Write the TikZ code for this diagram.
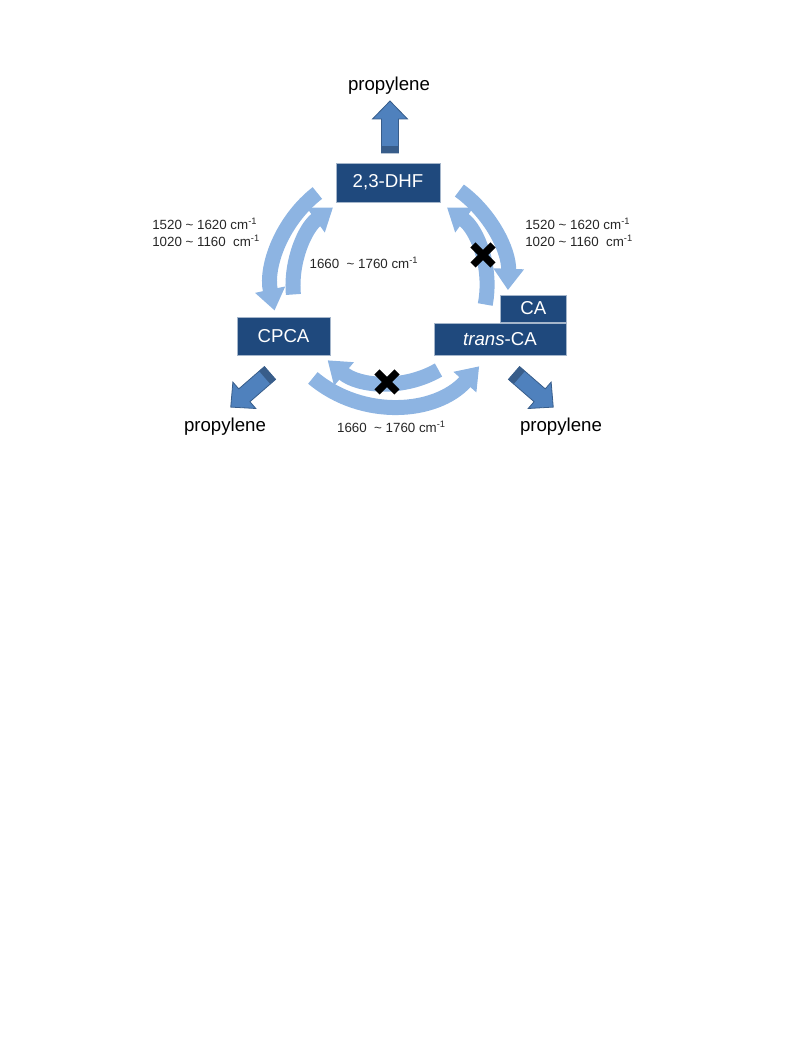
\documentclass[tikz,border=0pt]{standalone}
\usepackage{fontspec}
\setmainfont{Liberation Sans}
\usetikzlibrary{arrows.meta,positioning}
\definecolor{boxblue}{HTML}{1F497D}
\definecolor{ringblue}{HTML}{8DB4E2}
\definecolor{outblue}{HTML}{4F81BD}
\definecolor{outedge}{HTML}{385D8A}
\newcommand{\wn}{cm\textsuperscript{-1}}

\begin{document}
\begin{tikzpicture}[x=0.75pt, y=0.75pt,
  box/.style={fill=boxblue, draw=white!60!boxblue, line width=0.4pt, text=white, inner sep=0pt, font=\fontsize{14}{16}\selectfont},
  lbl/.style={font=\fontsize{10}{12.75}\selectfont, align=left, text=black!85, inner sep=0pt},
  prod/.style={font=\fontsize{14}{16}\selectfont},
  ring/.style={draw=ringblue, line width=11.25pt, -{Triangle[width=22pt,length=16pt]}},
  nope/.style={line width=5.5pt}]
\useasboundingbox (0,0) rectangle (793,1057);

% Nodes
\node[box, minimum width=78pt, minimum height=29pt] (dhf) at (388,874.5) {2,3-DHF};
\node[box, minimum width=70pt, minimum height=28.5pt] (cpca) at (283.5,721) {CPCA};
\node[box, minimum width=99pt, minimum height=24pt] (tca) at (500,718) {\textit{trans}-CA};
\node[box, minimum width=49pt, minimum height=20pt, above=0.5pt of tca.north east, anchor=south east] (ca) {CA};

\node[prod] (ptop) at (389,971) {propylene};
\node[prod] (pleft) at (225,630) {propylene};
\node[prod] (pright) at (561,630) {propylene};

\node[lbl, anchor=west] (lwn) at (152,824.5) {1520 \textasciitilde{} 1620 \wn\\1020 \textasciitilde{} 1160\ \ \wn};
\node[lbl, anchor=west] (rwn) at (525,824.5) {1520 \textasciitilde{} 1620 \wn\\1020 \textasciitilde{} 1160\ \ \wn};
\node[lbl] (iwn) at (364,794) {1660\ \ \textasciitilde{} 1760 \wn};
\node[lbl] (bwn) at (391.5,630) {1660\ \ \textasciitilde{} 1760 \wn};

\coordinate (ctr) at (390,771);
\coordinate (x1) at (483,802);
\coordinate (x2) at (387,675);

% Arrows
\draw[ring] ([shift={(128:118)}]ctr) arc[start angle=128, end angle=192, radius=118];
\draw[ring] ([shift={(185:97)}]ctr) arc[start angle=185, end angle=126, radius=97];
\draw[ring] ([shift={(54:118)}]ctr) arc[start angle=54, end angle=-2, radius=118];
\draw[ring] ([shift={(-11:97)}]ctr) arc[start angle=-11, end angle=54, radius=97];
\draw[ring] ([shift={(230:120)}]ctr) arc[start angle=230, end angle=318, radius=120];
\draw[ring] ([shift={(300:97)}]ctr) arc[start angle=300, end angle=230, radius=97];

% blocked ones
\draw[nope] ([shift={(-10,-10)}]x1) -- ([shift={(10,10)}]x1) ([shift={(-10,10)}]x1) -- ([shift={(10,-10)}]x1);
\draw[nope] ([shift={(-10,-10)}]x2) -- ([shift={(10,10)}]x2) ([shift={(-10,10)}]x2) -- ([shift={(10,-10)}]x2);

% propylene out
\foreach \tx/\ty/\ang in {390/904/90, 270/684/221, 514/684/-41} {
  \begin{scope}[shift={(\tx,\ty)}, rotate=\ang]
    \filldraw[fill=outblue, draw=outedge, line width=0.6pt] (0,-8.5) -- (34,-8.5) -- (34,-17.5) -- (52,0) -- (34,17.5) -- (34,8.5) -- (0,8.5) -- cycle;
    \fill[outedge] (0,-8.5) rectangle (7,8.5);
  \end{scope}
}

\end{tikzpicture}
\end{document}
